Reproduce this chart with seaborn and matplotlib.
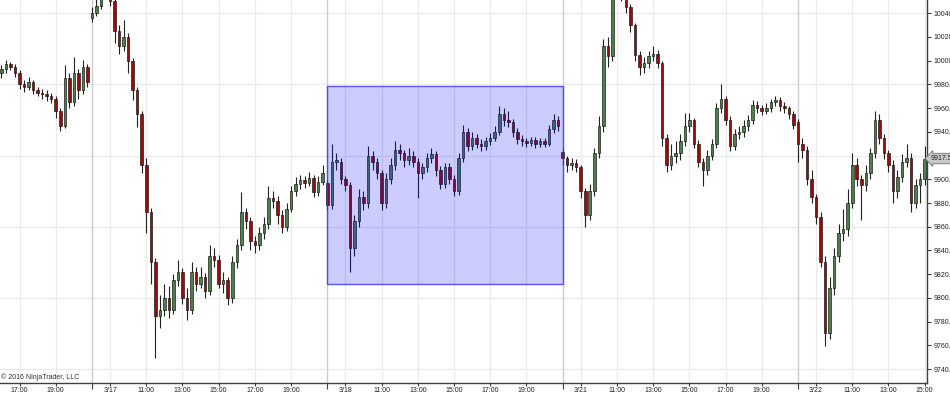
import numpy as np
import pandas as pd
import matplotlib
matplotlib.use("Agg")
import matplotlib.pyplot as plt
from matplotlib.patches import Rectangle
from matplotlib.transforms import blended_transform_factory
import seaborn as sns

# ---------------- data (15-minute bars, session 08:00-21:00) ----------------
days = ["3/16", "3/17", "3/18", "3/21", "3/22"]
day_index = [-1, 0, 1, 2, 3]
first_bar = ["16:00", "08:00", "08:00", "08:00", "08:00"]
day_open = [9990, 10036, 9897, 9923, 9948]

close_0316 = [9993, 9997, 9995, 9990, 9980, 9978, 9982, 9975, 9973, 9972, 9970, 9968, 9958, 9945, 9985, 9965, 9990, 9975, 9995, 9982]
high_0316 = [9996, 10001, 9999, 9997, 9992, 9984, 9986, 9984, 9978, 9976, 9975, 9973, 9970, 9960, 9996, 9990, 10003, 9993, 10001, 9997]
low_0316 = [9985, 9990, 9992, 9986, 9976, 9974, 9975, 9972, 9970, 9968, 9966, 9964, 9952, 9941, 9943, 9960, 9962, 9968, 9972, 9978]

close_0317 = [10040, 10046, 10058, 10062, 10050, 10025, 10012, 10020, 10000, 9975, 9955, 9912, 9872, 9830, 9785, 9790,
              9800, 9790, 9815, 9822, 9800, 9790, 9822, 9812, 9818, 9806, 9835, 9832, 9812, 9815, 9800, 9830, 9845, 9872,
              9865, 9848, 9845, 9855, 9862, 9884, 9882, 9870, 9860, 9875, 9890, 9896, 9899, 9897, 9901, 9889, 9898, 9905]
high_0317 = [10045, 10055, 10065, 10070, 10066, 10052, 10030, 10034, 10023, 10002, 9978, 9958, 9918, 9876, 9834, 9802,
             9812, 9810, 9820, 9832, 9825, 9808, 9830, 9826, 9826, 9821, 9845, 9842, 9836, 9822, 9818, 9835, 9850, 9889,
             9876, 9868, 9852, 9860, 9868, 9894, 9890, 9886, 9874, 9880, 9894, 9902, 9904, 9903, 9906, 9904, 9903, 9912]
low_0317 = [10033, 10038, 10044, 10052, 10046, 10015, 10006, 10008, 9990, 9967, 9944, 9905, 9855, 9812, 9749, 9775,
            9785, 9783, 9786, 9810, 9795, 9781, 9786, 9806, 9808, 9800, 9802, 9826, 9808, 9804, 9794, 9796, 9825, 9840,
            9858, 9840, 9838, 9840, 9850, 9858, 9876, 9862, 9855, 9856, 9872, 9886, 9892, 9893, 9894, 9885, 9886, 9895]

close_0318 = [9878, 9915, 9915, 9900, 9895, 9842, 9865, 9885, 9880, 9920, 9915, 9905, 9880, 9900, 9912, 9925, 9922,
              9916, 9920, 9915, 9905, 9910, 9918, 9921, 9908, 9896, 9910, 9900, 9890, 9918, 9940, 9928, 9935, 9930,
              9928, 9932, 9935, 9940, 9955, 9950, 9948, 9940, 9934, 9932, 9931, 9933, 9930, 9932, 9930, 9942, 9950, 9945]
high_0318 = [9899, 9930, 9922, 9918, 9903, 9898, 9870, 9892, 9890, 9928, 9924, 9918, 9908, 9905, 9918, 9932, 9930,
             9925, 9926, 9924, 9918, 9914, 9922, 9926, 9924, 9911, 9914, 9914, 9904, 9922, 9946, 9943, 9940, 9938,
             9934, 9936, 9939, 9945, 9962, 9960, 9958, 9951, 9943, 9937, 9935, 9936, 9936, 9935, 9935, 9946, 9955, 9953]
low_0318 = [9874, 9875, 9908, 9896, 9890, 9822, 9835, 9860, 9874, 9876, 9908, 9900, 9874, 9876, 9896, 9908, 9916,
            9910, 9912, 9910, 9884, 9900, 9906, 9914, 9903, 9892, 9893, 9896, 9886, 9887, 9915, 9924, 9925, 9926,
            9924, 9925, 9929, 9932, 9937, 9945, 9944, 9936, 9930, 9928, 9927, 9928, 9926, 9927, 9927, 9928, 9939, 9941]

close_0321 = [9918, 9912, 9914, 9910, 9890, 9870, 9890, 9922, 9945, 10012, 10004, 10060, 10065, 10058, 10045, 10030,
              10005, 9995, 9998, 10004, 10006, 9998, 9935, 9912, 9920, 9922, 9932, 9945, 9950, 9930, 9915, 9908, 9920,
              9930, 9960, 9968, 9950, 9928, 9938, 9940, 9945, 9950, 9963, 9960, 9958, 9960, 9965, 9967, 9962, 9960, 9955, 9946]
high_0321 = [9926, 9920, 9918, 9917, 9912, 9893, 9896, 9926, 9953, 10018, 10020, 10068, 10075, 10070, 10060, 10048,
             10032, 10008, 10003, 10008, 10012, 10009, 10000, 9938, 9930, 9932, 9938, 9956, 9956, 9952, 9933, 9918, 9925,
             9934, 9964, 9980, 9970, 9953, 9942, 9945, 9950, 9954, 9967, 9966, 9963, 9964, 9968, 9970, 9969, 9965, 9962, 9958]
low_0321 = [9912, 9906, 9908, 9906, 9884, 9860, 9866, 9886, 9918, 9940, 9995, 10000, 10055, 10050, 10040, 10024,
            10000, 9988, 9990, 9994, 10000, 9994, 9928, 9906, 9908, 9914, 9916, 9928, 9940, 9926, 9910, 9894, 9904,
            9916, 9926, 9956, 9946, 9924, 9925, 9934, 9936, 9941, 9947, 9956, 9954, 9955, 9957, 9962, 9958, 9956, 9951, 9942]

close_0322 = [9930, 9925, 9900, 9885, 9868, 9830, 9770, 9808, 9835, 9855, 9858, 9880, 9912, 9900, 9895, 9905, 9922,
              9950, 9935, 9922, 9912, 9890, 9902, 9915, 9918, 9880, 9895, 9900, 9917.5]
high_0322 = [9951, 9935, 9928, 9908, 9888, 9872, 9835, 9818, 9842, 9862, 9875, 9892, 9922, 9918, 9904, 9912, 9926,
             9958, 9955, 9938, 9925, 9916, 9908, 9921, 9930, 9922, 9900, 9905, 9928]
low_0322 = [9915, 9918, 9895, 9880, 9862, 9826, 9759, 9765, 9802, 9830, 9848, 9852, 9876, 9894, 9866, 9890, 9900,
            9918, 9930, 9917, 9906, 9880, 9884, 9898, 9910, 9872, 9876, 9880, 9895]

closes = [close_0316, close_0317, close_0318, close_0321, close_0322]
highs = [high_0316, high_0317, high_0318, high_0321, high_0322]
lows = [low_0316, low_0317, low_0318, low_0321, low_0322]

# drawn rectangle (3/18 session range)
box_days = ("3/18", "3/21")
box_low, box_high = 9811.75, 9978.75

# tick labels
tick_times = {
    "3/16": ["17:00", "19:00"],
    "3/17": ["09:00", "11:00", "13:00", "15:00", "17:00", "19:00"],
    "3/18": ["09:00", "11:00", "13:00", "15:00", "17:00", "19:00"],
    "3/21": ["09:00", "11:00", "13:00", "15:00", "17:00", "19:00"],
    "3/22": ["09:00", "11:00", "13:00", "15:00"],
}
copyright_text = "\u00a9 2016 NinjaTrader, LLC"

# ---------------- build table ----------------
SESSION_START, SESSION_LEN = 8.0, 13.0


def hours(t):
    hh, mm = t.split(":")
    return int(hh) + int(mm) / 60.0


rows = []
for d, di, fb, o0, cl, hi, lo in zip(days, day_index, first_bar, day_open, closes, highs, lows):
    prev = o0
    for k, (c, h, l) in enumerate(zip(cl, hi, lo)):
        x = di * SESSION_LEN + hours(fb) - SESSION_START + 0.25 * k
        rows.append(dict(day=d, x=x, open=prev, high=max(h, prev, c), low=min(l, prev, c), close=c))
        prev = c
df = pd.DataFrame(rows)
day_pos = {d: di * SESSION_LEN for d, di in zip(days, day_index)}

# ---------------- plot ----------------
sns.set_theme(style="white")
plt.rcParams['font.family'] = ['Liberation Sans', 'DejaVu Sans']

fig = plt.figure(figsize=(9.5, 3.93), dpi=100)
ax = fig.add_axes([0, 10 / 393, 927 / 950, 1 - 10 / 393])
ax.set_facecolor("white")

xlim = (-5.08, 46.13)
ylim = (9728.2, 10051.2)
ax.set_xlim(*xlim)
ax.set_ylim(*ylim)

# grid
yticks = np.arange(9740, 10041, 20)
for yv in np.arange(9740, 10041, 60):
    ax.axhline(yv, color="#ebebeb", lw=1.0, zorder=0)

xt_pos, xt_lab = [], []
for d in days:
    for t in tick_times[d]:
        xt_pos.append(day_pos[d] + hours(t) - SESSION_START)
        xt_lab.append(d if t == "09:00" else t)
for xv in xt_pos:
    ax.axvline(xv, color="#ebebeb", lw=1.0, zorder=0)
separators = [day_pos[d] for d in days[1:]]
for xv in separators:
    ax.axvline(xv, color="#cdcdcd", lw=1.0, zorder=0)

# candles
up = df["close"] >= df["open"]
ax.vlines(df["x"], df["low"], df["high"], color="#222222", lw=0.8, zorder=2)
body_lo = df[["open", "close"]].min(axis=1)
body_h = (df["close"] - df["open"]).abs().clip(lower=0.9)
ax.bar(df["x"], body_h, bottom=body_lo, width=0.14,
       color=np.where(up, "#4f7f4f", "#9a0c0c"), edgecolor="#111111", linewidth=0.45, zorder=3)

# rectangle drawing object
bx0, bx1 = day_pos[box_days[0]], day_pos[box_days[1]]
ax.add_patch(Rectangle((bx0, box_low), bx1 - bx0, box_high - box_low,
                       facecolor=(0, 0, 1, 0.2), edgecolor=(0.2, 0.2, 1, 0.8), lw=1.0, zorder=4))

# axes styling
for s in ["left", "top"]:
    ax.spines[s].set_visible(False)
for s in ["right", "bottom"]:
    ax.spines[s].set_color("#404040")
    ax.spines[s].set_linewidth(1.0)

last = df["close"].iloc[-1]
ax.yaxis.tick_right()
ax.set_yticks(yticks)
# the label hidden under the last-price marker is not shown
ax.set_yticklabels(["" if abs(v - last) < 8 else f"{v:.2f}" for v in yticks])
ax.set_xticks(xt_pos)
ax.set_xticklabels(xt_lab)
ax.set_xticks(separators, minor=True)
ax.tick_params(axis="y", which="both", right=True, left=False, length=3, width=0.8, pad=1.5,
               labelsize=5, colors="#404040", labelcolor="#222222")
ax.tick_params(axis="x", which="major", bottom=True, length=2.5, width=0.8, pad=0.5,
               labelsize=5, colors="#404040", labelcolor="#222222")
ax.tick_params(axis="x", which="minor", bottom=True, length=4, width=0.8, colors="#404040")
ax.grid(False)

# last price marker
trans = blended_transform_factory(ax.transAxes, ax.transData)
ax.text(1.004, last, f"{last:.2f}", transform=trans, ha="left", va="center", fontsize=5,
        color="#222222", clip_on=False, zorder=6,
        bbox=dict(boxstyle="larrow,pad=0.25", fc="#c8c8c8", ec="#707070", lw=0.6))

ax.text(0.0015, 0.004, copyright_text, transform=ax.transAxes, ha="left", va="bottom",
        fontsize=5, color="#333333", zorder=6)

fig.savefig("out.png", dpi=100)
